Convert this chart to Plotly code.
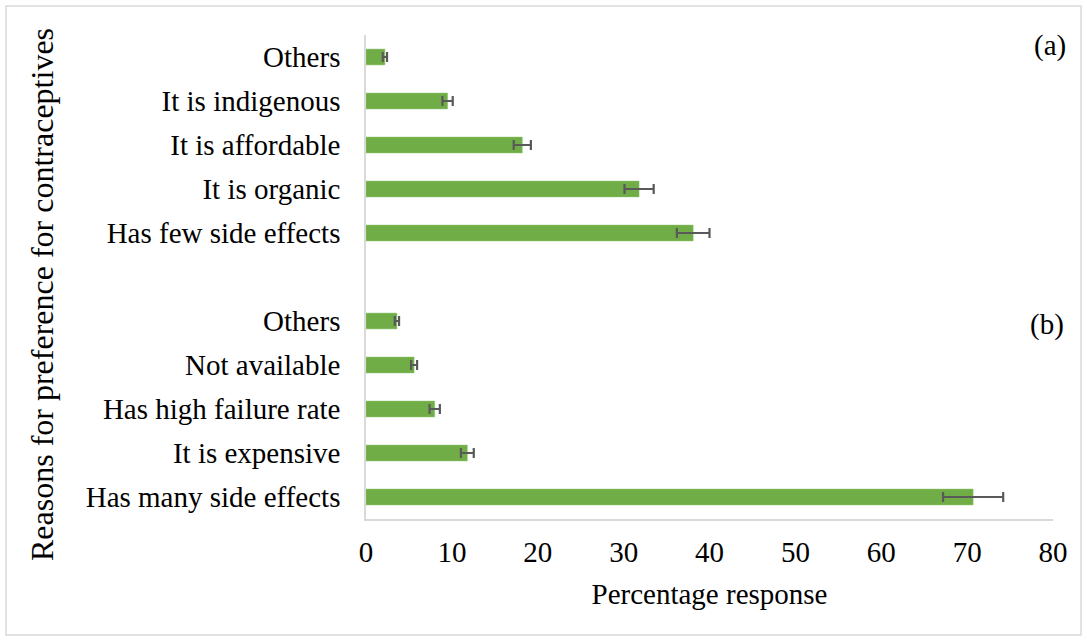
import plotly.graph_objects as go

# Data (top-to-bottom order as displayed)
labels = ["Others", "It is indigenous", "It is affordable", "It is organic",
          "Has few side effects", "",
          "Others", "Not available", "Has high failure rate", "It is expensive",
          "Has many side effects"]
values = [2.2, 9.5, 18.2, 31.8, 38.1, None, 3.6, 5.6, 8.0, 11.8, 70.7]
errors = [0.25, 0.6, 1.0, 1.7, 1.9, None, 0.25, 0.35, 0.6, 0.75, 3.5]
x_ticks = [0, 10, 20, 30, 40, 50, 60, 70, 80]
panel_labels = ["(a)", "(b)"]
x_title = "Percentage response"
y_title = "Reasons for preference for contraceptives"

positions = list(range(len(labels)))
FONT = "Liberation Serif, Times New Roman, serif"
AXIS_GREY = "#d9d9d9"

fig = go.Figure()
fig.add_trace(go.Bar(
    x=values, y=positions, orientation="h",
    marker=dict(color="#70AD47", line=dict(color="#8cc46a", width=0.5)),
    width=0.36,
    error_x=dict(type="data", array=errors, visible=True,
                 color="#595959", thickness=2.2, width=5),
    showlegend=False, hoverinfo="skip",
))

fig.update_layout(
    width=1087, height=641,
    margin=dict(l=366, r=34, t=35, b=122),
    paper_bgcolor="white", plot_bgcolor="white",
    font=dict(family=FONT, size=29, color="#000000"),
    xaxis=dict(range=[0, 80], tickvals=x_ticks, ticktext=[str(t) for t in x_ticks],
               showgrid=False, zeroline=False, showline=True, linecolor=AXIS_GREY,
               linewidth=1.5, ticks="", ticklabelstandoff=6,
               title=dict(text=x_title, standoff=17,
                          font=dict(family=FONT, size=29))),
    yaxis=dict(range=[len(labels) - 0.5, -0.5], tickvals=positions, ticktext=labels,
               showgrid=False, zeroline=False, showline=True, linecolor=AXIS_GREY,
               linewidth=1.5, ticks="", ticklabelstandoff=18),
    shapes=[dict(type="rect", xref="paper", yref="paper",
                 x0=-0.524, x1=1.0408, y0=-0.2397, y1=1.06,
                 line=dict(color="#d9d9d9", width=1.5), fillcolor="rgba(0,0,0,0)",
                 layer="below")],
    annotations=[
        dict(text=y_title, xref="paper", yref="paper", x=-0.4716, y=0.4628,
             textangle=-90, showarrow=False, xanchor="center", yanchor="middle",
             font=dict(family=FONT, size=32)),
        dict(text=panel_labels[0], xref="paper", yref="paper", x=0.996, y=0.979,
             showarrow=False, xanchor="center", yanchor="middle",
             font=dict(family=FONT, size=29)),
        dict(text=panel_labels[1], xref="paper", yref="paper", x=0.991, y=0.401,
             showarrow=False, xanchor="center", yanchor="middle",
             font=dict(family=FONT, size=29)),
    ],
)

fig.write_html("out.html", config={"displayModeBar": False},
               post_script="document.body.style.margin='0';")
